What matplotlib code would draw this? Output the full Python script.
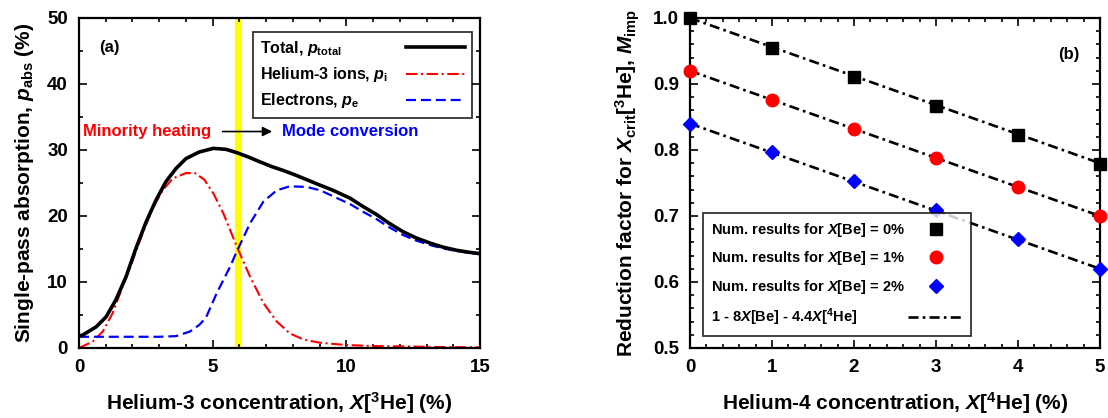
import numpy as np
import matplotlib
matplotlib.use('Agg')
import matplotlib.pyplot as plt
from matplotlib.ticker import MultipleLocator

plt.rcParams['font.family'] = ['Liberation Sans', 'DejaVu Sans']
plt.rcParams['font.weight'] = 'bold'
plt.rcParams['axes.labelweight'] = 'bold'
plt.rcParams['mathtext.fontset'] = 'custom'
plt.rcParams['mathtext.rm'] = 'Liberation Sans:bold'
plt.rcParams['mathtext.it'] = 'Liberation Sans:bold:italic'
plt.rcParams['mathtext.bf'] = 'Liberation Sans:bold'

# (a) single-pass absorption vs He-3 concentration
x_total = [0, 0.14, 0.64, 1.01, 1.38, 1.76, 2.13, 2.51, 2.88, 3.25, 3.63, 4.0, 4.5, 5.03, 5.5, 5.9,
           6.3, 6.77, 7.2, 7.64, 8.1, 8.52, 9.0, 9.5, 10.14, 10.6, 11.14, 11.6, 12.13, 12.6, 13.13,
           13.6, 14.13, 14.6, 15]
p_total = [1.8, 1.97, 3.2, 4.7, 7.3, 10.8, 15.1, 19.1, 22.4, 25.2, 27.2, 28.7, 29.7, 30.25, 30.1, 29.6,
           29.0, 28.2, 27.5, 26.9, 26.2, 25.5, 24.7, 23.9, 22.7, 21.5, 20.2, 18.9, 17.6, 16.7, 15.9,
           15.3, 14.8, 14.5, 14.3]
x_ion = [0, 0.51, 0.89, 1.26, 1.63, 2.01, 2.38, 2.76, 3.13, 3.51, 4.0, 4.34, 4.69, 5.03, 5.4, 5.9,
         6.4, 6.9, 7.4, 7.89, 8.39, 9, 10, 11, 12, 13.5, 15]
p_ion = [0, 0.96, 2.5, 5.3, 9.3, 13.3, 17.4, 21.2, 23.9, 25.7, 26.5, 26.5, 25.5, 23.4, 20.4, 15.4,
         10.8, 6.8, 4.0, 2.2, 1.3, 0.8, 0.45, 0.3, 0.25, 0.15, 0.1]
x_ele = [0, 1, 2, 3, 3.63, 4.15, 4.5, 4.75, 5.15, 5.65, 5.9, 6.4, 6.9, 7.4, 7.89, 8.52, 9.02, 9.5,
         10.14, 10.6, 11.14, 11.6, 12.13, 12.6, 13.13, 13.6, 14.13, 14.6, 15]
p_ele = [1.7, 1.7, 1.7, 1.7, 1.8, 2.5, 3.5, 4.6, 8.3, 12.3, 14.6, 18.9, 22.2, 23.9, 24.5, 24.4, 23.9, 23.0,
         21.8, 20.7, 19.5, 18.3, 17.1, 16.3, 15.6, 15.1, 14.7, 14.4, 14.2]
x_split = 5.95

# (b) reduction factor vs He-4 concentration
x_he4 = [0, 1, 2, 3, 4, 5]
m_be0 = [1.000, 0.955, 0.911, 0.867, 0.823, 0.779]
m_be1 = [0.920, 0.876, 0.832, 0.788, 0.744, 0.700]
m_be2 = [0.840, 0.797, 0.753, 0.709, 0.665, 0.620]
fit_x = [0, 5]
fit_be0 = [1.00, 0.78]
fit_be1 = [0.92, 0.70]
fit_be2 = [0.84, 0.62]

fig = plt.figure(figsize=(11.08, 4.18), dpi=100)
ax1 = fig.add_axes([79/1108, 70/418, 401/1108, 330/418])
ax2 = fig.add_axes([690/1108, 70/418, 410/1108, 330/418])

def style(ax):
    for s in ax.spines.values():
        s.set_linewidth(1.6)
    ax.tick_params(which='both', direction='in', top=True, right=True, width=1.2, labelsize=13.5, pad=8)
    ax.tick_params(which='major', length=6)
    ax.tick_params(which='minor', length=3)

def left_align(leg):
    # markerfirst=False right-aligns the labels; pad each row so the text sits on the left
    fig.canvas.draw()
    r = fig.canvas.get_renderer()
    for col in leg._legend_handle_box.get_children():
        rows = col.get_children()
        widths = [row.get_children()[0].get_bbox(r).width for row in rows]
        for row, w in zip(rows, widths):
            row.sep = row.sep + (max(widths) - w) / r.points_to_pixels(1.)

ax1.axvline(x_split, color='#ffff00', lw=4.5, zorder=1)
ax1.plot(x_total, p_total, color='black', lw=2.6, label=r'Total, $p_{\mathrm{total}}$', zorder=3)
ax1.plot(x_ion, p_ion, color='red', lw=1.5, dashes=[5.5, 1.7, 1, 1.7], label=r'Helium-3 ions, $p_{\mathrm{i}}$', zorder=2)
ax1.plot(x_ele, p_ele, color='blue', lw=1.6, dashes=[4.5, 2.2], label=r'Electrons, $p_{\mathrm{e}}$', zorder=2)
ax1.set_xlim(0, 15)
ax1.set_ylim(0, 50)
ax1.xaxis.set_major_locator(MultipleLocator(5))
ax1.xaxis.set_minor_locator(MultipleLocator(1))
ax1.yaxis.set_major_locator(MultipleLocator(10))
ax1.yaxis.set_minor_locator(MultipleLocator(5))
style(ax1)
ax1.set_xlabel(r'Helium-3 concentration, $X$[$^{3}$He] (%)', fontsize=15, labelpad=10)
ax1.set_ylabel(r'Single-pass absorption, $p_{\mathrm{abs}}$ (%)', fontsize=15, labelpad=8)
leg = ax1.legend(loc='upper right', bbox_to_anchor=(0.98, 0.958), markerfirst=False, fontsize=11.5,
                 frameon=True, fancybox=False, edgecolor='black', handlelength=3.7, handletextpad=1.1,
                 borderpad=0.45, labelspacing=0.45, borderaxespad=0)
leg.get_frame().set_linewidth(1.3)
ax1.text(1.15, 45.6, '(a)', fontsize=12, ha='center', va='center')
ax1.text(4.95, 32.8, 'Minority heating', color='red', fontsize=12, ha='right', va='center')
ax1.text(7.6, 32.8, 'Mode conversion', color='blue', fontsize=12, ha='left', va='center')
ax1.annotate('', xy=(7.33, 32.8), xytext=(5.27, 32.8),
             arrowprops=dict(arrowstyle='-|>', color='black', lw=1.2, mutation_scale=14))

dd = [3.8, 1.6, 1, 1.6]
ax2.plot(fit_x, fit_be0, color='black', lw=1.9, dashes=dd, zorder=2)
ax2.plot(fit_x, fit_be1, color='black', lw=1.9, dashes=dd, zorder=2)
ax2.plot(fit_x, fit_be2, color='black', lw=1.9, dashes=dd, zorder=2,
         label=r'1 - 8$X$[Be] - 4.4$X$[$^{4}$He]')
ax2.plot(x_he4, m_be0, 's', color='black', ms=9, clip_on=False, zorder=3, label=r'Num. results for $X$[Be] = 0%')
ax2.plot(x_he4, m_be1, 'o', color='red', ms=9, clip_on=False, zorder=3, label=r'Num. results for $X$[Be] = 1%')
ax2.plot(x_he4, m_be2, 'D', color='blue', ms=7, clip_on=False, zorder=3, label=r'Num. results for $X$[Be] = 2%')
ax2.set_xlim(0, 5)
ax2.set_ylim(0.5, 1.0)
ax2.xaxis.set_major_locator(MultipleLocator(1))
ax2.xaxis.set_minor_locator(MultipleLocator(0.2))
ax2.yaxis.set_major_locator(MultipleLocator(0.1))
ax2.yaxis.set_minor_locator(MultipleLocator(0.02))
ax2.yaxis.set_major_formatter(plt.FormatStrFormatter('%.1f'))
style(ax2)
ax2.set_xlabel(r'Helium-4 concentration, $X$[$^{4}$He] (%)', fontsize=15, labelpad=10)
ax2.set_ylabel(r'Reduction factor for $X_{\mathrm{crit}}$[$^{3}$He], $M_{\mathrm{imp}}$', fontsize=15, labelpad=8)
h, l = ax2.get_legend_handles_labels()
order = [1, 2, 3, 0]
leg2 = ax2.legend([h[i] for i in order], [l[i] for i in order], loc='lower left', bbox_to_anchor=(0.032, 0.036),
                  markerfirst=False, fontsize=10.5, frameon=True, fancybox=False, edgecolor='black',
                  handlelength=3.8, handletextpad=0.2, borderpad=0.55, labelspacing=0.72, borderaxespad=0)
leg2.get_frame().set_linewidth(1.3)
ax2.text(4.62, 0.945, '(b)', fontsize=12, ha='center', va='center')

left_align(leg)
left_align(leg2)

fig.savefig('out.png', dpi=100)
